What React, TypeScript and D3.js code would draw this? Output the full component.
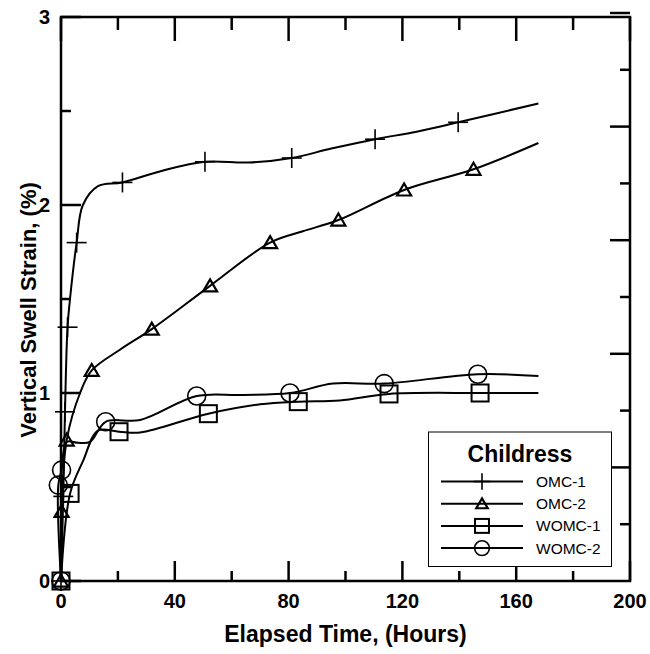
import React from "react";
import * as d3 from "d3";

// axis ticks
const xMajor = [0, 40, 80, 120, 160, 200];
const xMinor = [20, 60, 100, 140, 180];
const yMajor = [0, 1, 2, 3];
const yMinor = [0.5, 1.5, 2.5];
const rightTicks = [0.3, 0.6, 0.9, 1.2, 1.5, 1.8, 2.1, 2.4, 2.7, 3.0];

// OMC-1 (plus)
const omc1Curve: [number, number][] = [
  [0, 0], [0.8, 0.45], [1.4, 0.9], [2.3, 1.35], [3.3, 1.52], [5.5, 1.8],
  [7.7, 2.0], [13, 2.1], [21.6, 2.12], [35, 2.18], [50.6, 2.23], [66, 2.226],
  [81.1, 2.25], [95, 2.3], [110.4, 2.35], [125, 2.39], [139.6, 2.44], [167.8, 2.54],
];
const omc1Marks: [number, number][] = [
  [0, 0], [0.8, 0.45], [1.4, 0.9], [2.3, 1.35], [5.5, 1.8], [21.6, 2.12],
  [50.6, 2.23], [81.1, 2.25], [110.4, 2.35], [139.6, 2.44],
];

// OMC-2 (triangle)
const omc2Curve: [number, number][] = [
  [0, 0], [0.2, 0.37], [2, 0.75], [6.7, 1.0], [10.8, 1.12], [20.7, 1.23],
  [31.9, 1.34], [52.4, 1.57], [73.5, 1.8], [85, 1.86], [97.5, 1.92],
  [120.6, 2.08], [145, 2.19], [167.8, 2.33],
];
const omc2Marks: [number, number][] = [
  [0, 0], [0.2, 0.37], [2, 0.75], [10.8, 1.12], [31.9, 1.34], [52.4, 1.57],
  [73.5, 1.8], [97.5, 1.92], [120.6, 2.08], [145, 2.19],
];

// WOMC-1 (square)
const womc1Curve: [number, number][] = [
  [0, 0], [3.2, 0.466], [7.8, 0.64], [13, 0.8], [20.4, 0.794], [27.8, 0.79],
  [51.8, 0.89], [70, 0.94], [83.4, 0.954], [98, 0.96], [115.3, 0.995],
  [147.3, 1.0], [167.8, 1.0],
];
const womc1Marks: [number, number][] = [
  [0, 0], [3.2, 0.466], [20.4, 0.794], [51.8, 0.89], [83.4, 0.954],
  [115.3, 0.995], [147.3, 1.0],
];

// WOMC-2 (circle)
const womc2Curve: [number, number][] = [
  [0, 0], [-0.95, 0.51], [0.2, 0.59], [2, 0.74], [6, 0.735], [10.2, 0.74],
  [15.7, 0.847], [27.8, 0.856], [47.7, 0.984], [63, 0.99], [80.5, 1.0],
  [95.6, 1.05], [113.6, 1.05], [146.5, 1.1], [167.8, 1.09],
];
const womc2Marks: [number, number][] = [
  [0, 0], [-0.95, 0.51], [0.2, 0.59], [15.7, 0.847], [47.7, 0.984],
  [80.5, 1.0], [113.6, 1.05], [146.5, 1.1],
];

const seriesNames = ["OMC-1", "OMC-2", "WOMC-1", "WOMC-2"];
const markerKinds = ["plus", "triangle", "square", "circle"];

const width = 650;
const height = 654;
const font = "'Liberation Sans', Arial, sans-serif";

function Marker({ kind, cx, cy, s = 1 }: { kind: string; cx: number; cy: number; s?: number }) {
  if (kind === "plus") {
    return (
      <g stroke="#000" strokeWidth={1.6}>
        <line x1={cx - 10 * s} x2={cx + 10 * s} y1={cy} y2={cy} />
        <line x1={cx} x2={cx} y1={cy - 10 * s} y2={cy + 10 * s} />
      </g>
    );
  }
  if (kind === "triangle") {
    const h = 6.5 * s;
    const w = 7 * s;
    return (
      <path
        d={`M${cx},${cy - h}L${cx + w},${cy + h * 0.85}L${cx - w},${cy + h * 0.85}Z`}
        fill="none"
        stroke="#000"
        strokeWidth={2.2}
      />
    );
  }
  if (kind === "square") {
    const r = 8.5 * s;
    return <rect x={cx - r} y={cy - r} width={2 * r} height={2 * r} fill="none" stroke="#000" strokeWidth={2} />;
  }
  return <circle cx={cx} cy={cy} r={9 * s} fill="none" stroke="#000" strokeWidth={1.6} />;
}

export default function App() {
  const x = d3.scaleLinear().domain([0, 200]).range([61, 630]);
  const y = d3.scaleLinear().domain([0, 3]).range([581, 17]);
  const yR = d3.scaleLinear().domain([0, 3]).range([581, 13]);

  const line = d3
    .line<[number, number]>()
    .x((d) => x(d[0]))
    .y((d) => y(d[1]))
    .curve(d3.curveCatmullRom.alpha(0.5));

  const curves = [omc1Curve, omc2Curve, womc1Curve, womc2Curve];
  const marks = [omc1Marks, omc2Marks, womc1Marks, womc2Marks];

  const [x0, x1] = x.range();
  const [yb, yt] = y.range();

  return (
    <svg
      width={width}
      height={height}
      style={{ position: "absolute", left: 0, top: 0, background: "#fff" }}
      fontFamily={font}
    >
      <rect x={0} y={0} width={width} height={height} fill="#fff" />

      {/* curves */}
      {curves.map((c, i) => (
        <path key={i} d={line(c) || ""} fill="none" stroke="#000" strokeWidth={2} />
      ))}

      {/* markers */}
      {marks.map((m, i) =>
        m.map((d, j) => <Marker key={`${i}-${j}`} kind={markerKinds[i]} cx={x(d[0])} cy={y(d[1])} />)
      )}

      {/* frame */}
      <rect x={x0} y={yt} width={x1 - x0} height={yb - yt} fill="none" stroke="#000" strokeWidth={2.5} />

      {/* bottom and top ticks */}
      <g stroke="#000" strokeWidth={2.5}>
        {xMajor.map((t) => (
          <line key={"bm" + t} x1={x(t)} x2={x(t)} y1={yb} y2={yb - 20} />
        ))}
        {xMinor.map((t) => (
          <line key={"bn" + t} x1={x(t)} x2={x(t)} y1={yb} y2={yb - 10} />
        ))}
        {xMajor.map((t) => (
          <line key={"tm" + t} x1={x(t)} x2={x(t)} y1={yt} y2={yt + 24} />
        ))}
        {xMinor.map((t) => (
          <line key={"tn" + t} x1={x(t)} x2={x(t)} y1={yt} y2={yt + 13} />
        ))}
        {yMajor.map((t) => (
          <line key={"lm" + t} x1={x0} x2={x0 + 20} y1={y(t)} y2={y(t)} />
        ))}
        {yMinor.map((t) => (
          <line key={"ln" + t} x1={x0} x2={x0 + 10} y1={y(t)} y2={y(t)} />
        ))}
        {rightTicks.map((t, i) => (
          <line key={"r" + t} x1={x1} x2={x1 - (i % 2 === 1 ? 20 : 10)} y1={yR(t)} y2={yR(t)} />
        ))}
      </g>

      {/* tick labels */}
      <g fontSize={20} fontWeight="bold" fill="#000">
        {xMajor.map((t) => (
          <text key={"xl" + t} x={x(t)} y={608} textAnchor="middle">
            {t}
          </text>
        ))}
        {yMajor.map((t) => (
          <text key={"yl" + t} x={50} y={y(t) + 7} textAnchor="end">
            {t}
          </text>
        ))}
      </g>

      {/* axis titles */}
      <text x={(x0 + x1) / 2} y={642} textAnchor="middle" fontSize={23} fontWeight="bold">
        Elapsed Time, (Hours)
      </text>
      <text
        transform={`translate(36,310) rotate(-90)`}
        textAnchor="middle"
        fontSize={22}
        fontWeight="bold"
      >
        Vertical Swell Strain, (%)
      </text>

      {/* legend */}
      <g>
        <rect x={428.5} y={432} width={183} height={134.5} fill="#fff" stroke="#000" strokeWidth={1} />
        <text x={520} y={462} textAnchor="middle" fontSize={23} fontWeight="bold">
          Childress
        </text>
        {seriesNames.map((name, i) => {
          const ly = 481.5 + i * 22.2;
          return (
            <g key={name}>
              <line x1={441} x2={523} y1={ly} y2={ly} stroke="#000" strokeWidth={2} />
              <Marker kind={markerKinds[i]} cx={482} cy={ly} s={0.82} />
              <text x={536} y={ly + 5.5} fontSize={15.5}>
                {name}
              </text>
            </g>
          );
        })}
      </g>
    </svg>
  );
}
